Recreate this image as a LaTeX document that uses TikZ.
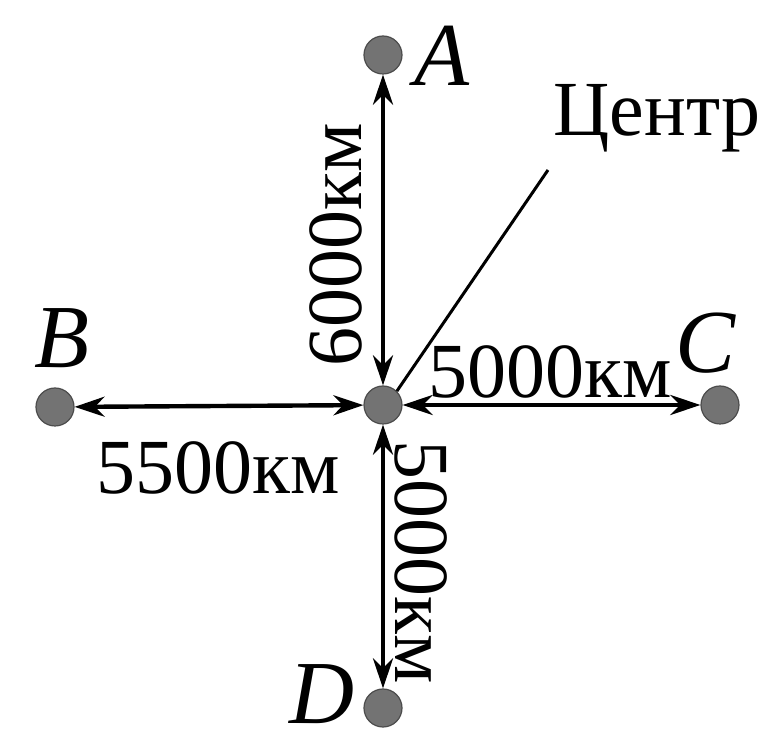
\documentclass[tikz,border=0pt]{standalone}
\usepackage{fontspec}
\setmainfont{Liberation Serif}
\usetikzlibrary{arrows.meta}
\begin{document}
\begin{tikzpicture}[x=0.5pt,y=-0.5pt,
  dot/.style={circle,fill=black!55,draw=black!70,line width=0.6pt,minimum size=19pt,inner sep=0pt},
  conn/.style={line width=2.2pt,{Stealth[length=15pt,width=10pt]}-{Stealth[length=15pt,width=10pt]}},
  dist/.style={font=\fontsize{39}{39}\selectfont,inner sep=0pt},
  let/.style={font=\fontsize{45}{45}\selectfont\itshape,inner sep=0pt}]
\useasboundingbox (0,0) rectangle (773,743);
\node[dot] (O) at (383,405) {};
\node[dot] (A) at (383,55) {};
\node[dot] (B) at (55,407) {};
\node[dot] (C) at (720,405) {};
\node[dot] (D) at (383,708) {};
\node[let] (lA) at (442,56) {A};
\node[let] (lB) at (62,338) {B};
\node[let] (lC) at (706,343) {C};
\node[let] (lD) at (322,694) {D};
\draw[conn] (A) -- (O);
\draw[conn] (B) -- (O);
\draw[conn] (C) -- (O);
\draw[conn] (D) -- (O);
\node[dist,rotate=90] (tA) at (336,245) {6000км};
\node[dist] (tC) at (550,372) {5000км};
\node[dist] (tB) at (218,468) {5500км};
\node[dist,rotate=-90] (tD) at (421,562) {5000км};
\node[dist] (ctr) at (657,118) {Центр};
\coordinate (ce) at (548,170);
\draw[line width=1.5pt] (ce) -- (O.north east);
\end{tikzpicture}
\end{document}
